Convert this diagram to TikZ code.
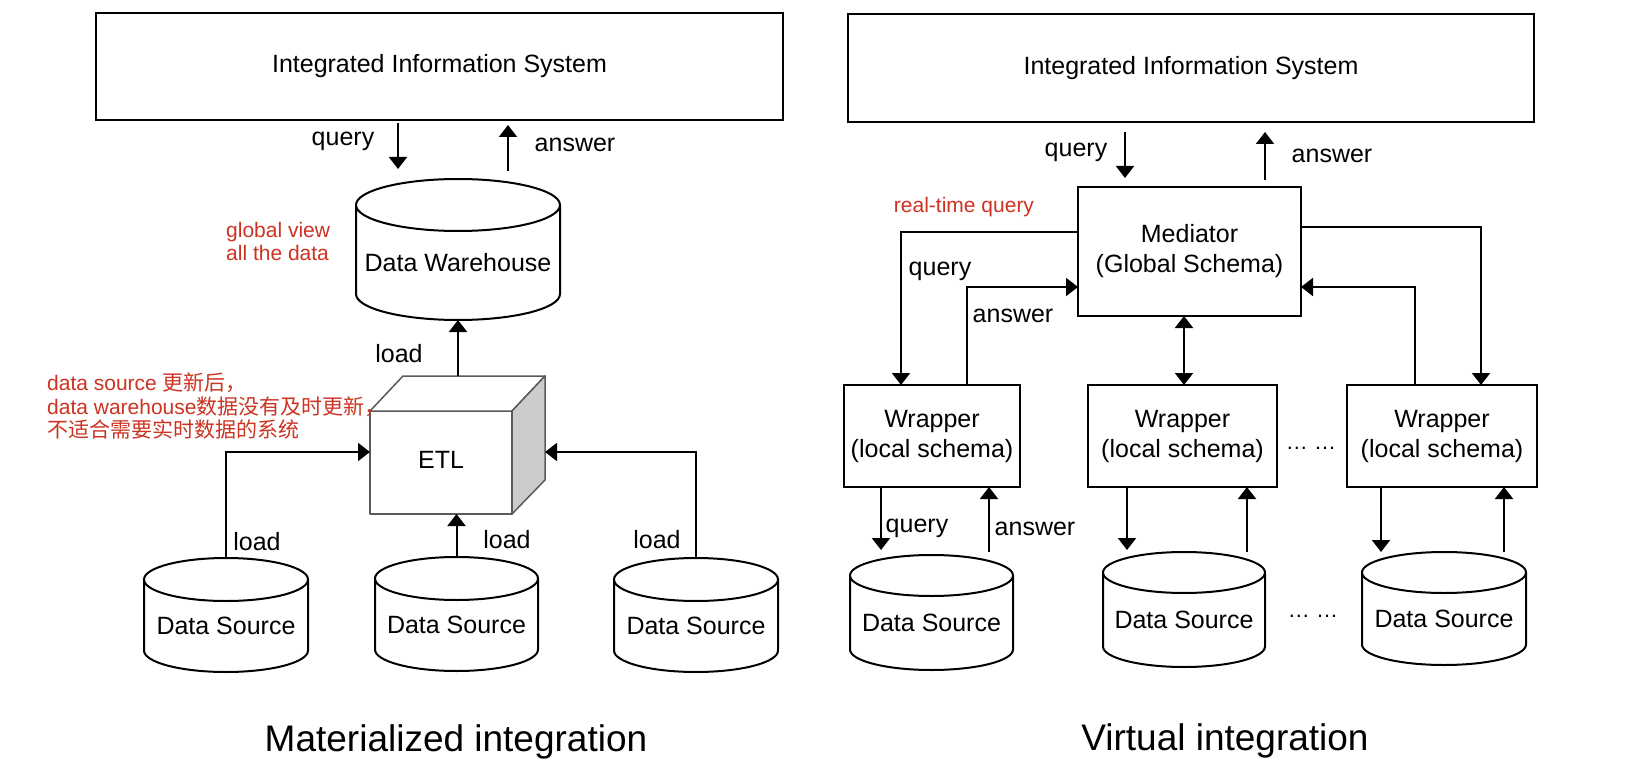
\documentclass[tikz,border=0pt]{standalone}
\usepackage{fontspec}
\setmainfont{Liberation Sans}
\newfontfamily\cjk{Noto Sans CJK SC}
\usetikzlibrary{arrows.meta,calc}
\definecolor{notered}{HTML}{CC3322}
\definecolor{sidegray}{HTML}{CCCCCC}
\definecolor{cubeedge}{HTML}{5A5A5A}
\newcommand\labfont{\fontsize{25}{30}\selectfont}
\newcommand\smallnotefont{\fontsize{21}{23.5}\selectfont}
\newcommand\ttlfont{\fontsize{37}{44}\selectfont}
\newcommand\dotsfont{\fontsize{22}{26}\selectfont}
\newcommand\drawcyl[2]{%
  \draw[cylline] let \p1=(#1.north west), \p2=(#1.south east), \n1={0.5*(\x2-\x1)} in
    (\x1,\y1-#2pt) -- (\x1,\y2+#2pt)
    arc[start angle=180, end angle=360, x radius=\n1, y radius=#2pt]
    -- (\x2,\y1-#2pt)
    (\x1+\n1,\y1-#2pt) ellipse [x radius=\n1, y radius=#2pt];
}
\tikzset{
  box/.style={draw, line width=2pt, rectangle, inner sep=0pt, outer sep=0pt, align=center, font=\labfont},
  cylnode/.style={rectangle, inner sep=0pt, outer sep=0pt, font=\labfont, text height=38pt, text depth=0pt},
  cylline/.style={line width=2pt},
  arr/.style={line width=2pt, -{Triangle[width=18pt,length=12pt]}},
  dblarr/.style={line width=2pt, {Triangle[width=18pt,length=12pt]}-{Triangle[width=18pt,length=12pt]}},
  lbl/.style={anchor=base, inner sep=0pt, font=\labfont},
  notetext/.style={anchor=base west, inner sep=0pt, text=notered, font=\smallnotefont},
  cubeline/.style={draw=cubeedge, line width=1.5pt, line join=round},
  etlface/.style={rectangle, cubeline, fill=white, inner sep=0pt, outer sep=0pt, font=\labfont, text height=11pt, text depth=0pt},
  ttl/.style={anchor=base, inner sep=0pt, font=\ttlfont},
}
\begin{document}
\begin{tikzpicture}[x=1pt,y=1pt]
\fill[white] (0,0) rectangle (1644,-770);
\useasboundingbox (0,0) rectangle (1644,-770);

% ================= Materialized integration =================
\node[box, minimum width=687pt, minimum height=107pt] (sysL) at (439.5,-66.5) {Integrated Information System};
\node[cylnode, minimum width=204pt, minimum height=141pt, text height=44pt] (dw) at (458,-249.5) {Data Warehouse};
\drawcyl{dw}{26}

\node[etlface, minimum width=142pt, minimum height=103pt] (etl) at (441,-462.5) {ETL};
\filldraw[cubeline, fill=white] (etl.north west) -- ++(33,35) -- ($(etl.north east)+(33,35)$) -- (etl.north east) -- cycle;
\filldraw[cubeline, fill=sidegray] (etl.north east) -- ($(etl.north east)+(33,35)$) -- ($(etl.south east)+(33,34)$) -- (etl.south east) -- cycle;

\node[cylnode, minimum width=164pt, minimum height=114pt] (dsl1) at (226,-615) {Data Source};
\node[cylnode, minimum width=163pt, minimum height=114pt] (dsl2) at (456.5,-614) {Data Source};
\node[cylnode, minimum width=164pt, minimum height=114pt] (dsl3) at (696,-615) {Data Source};
\drawcyl{dsl1}{21.5}
\drawcyl{dsl2}{21.5}
\drawcyl{dsl3}{21.5}

\draw[arr] ($(sysL.south west)+(302,-3)$) -- ($(dw.north west)+(42,10)$);
\draw[arr] ($(dw.north west)+(152,8)$) -- ($(sysL.south west)+(412,-5)$);
\draw[arr] ($(dw.south |- etl.north)+(0,35)$) -- (dw.south);
\draw[arr] (dsl1.north) |- ($(etl.west)+(0,10.5)$);
\draw[arr] (dsl2.north) -- (dsl2.north |- etl.south);
\draw[arr] (dsl3.north) |- ($(etl.east)+(33,10.5)$);

\node[lbl] (lq1) at (343,-146) {query};
\node[lbl] (la1) at (575,-152) {answer};
\node[notetext] (gv1) at (226,-237) {global view};
\node[notetext] (gv2) at (226,-260) {all the data};
\node[lbl] (ld0) at (399,-362) {load};
\node[notetext] (up1) at (47,-390) {data source {\cjk 更新后，}};
\node[notetext] (up2) at (47,-414) {data warehouse{\cjk 数据没有及时更新，}};
\node[notetext] (up3) at (47,-437) {{\cjk 不适合需要实时数据的系统}};
\node[lbl] (ld1) at (257,-550) {load};
\node[lbl] (ld2) at (507,-548) {load};
\node[lbl] (ld3) at (657,-548) {load};
\node[ttl] (t1) at (456,-751) {Materialized integration};

% ================= Virtual integration =================
\node[box, minimum width=686pt, minimum height=108pt] (sysR) at (1191,-68) {Integrated Information System};
\node[box, minimum width=223pt, minimum height=129pt] (med) at (1189.5,-251.5) {Mediator\\(Global Schema)};
\node[box, minimum width=176pt, minimum height=102pt] (w1) at (932,-436) {Wrapper\\(local schema)};
\node[box, minimum width=189pt, minimum height=102pt] (w2) at (1182.5,-436) {Wrapper\\(local schema)};
\node[box, minimum width=190pt, minimum height=102pt] (w3) at (1442,-436) {Wrapper\\(local schema)};
\node[cylnode, minimum width=163pt, minimum height=115pt] (dsr1) at (931.5,-612.5) {Data Source};
\node[cylnode, minimum width=162pt, minimum height=115pt] (dsr2) at (1184,-609.5) {Data Source};
\node[cylnode, minimum width=164pt, minimum height=113pt] (dsr3) at (1444,-608.5) {Data Source};
\drawcyl{dsr1}{20.5}
\drawcyl{dsr2}{20.5}
\drawcyl{dsr3}{20.5}

\draw[arr] ($(sysR.south west)+(277,-10)$) -- ($(med.north west)+(47,9)$);
\draw[arr] ($(med.north west)+(187,7)$) -- ($(sysR.south west)+(417,-10)$);
\draw[arr] ($(med.west)+(0,19.5)$) -| ($(w1.north west)+(57,0)$);
\draw[arr] ($(w1.north west)+(123,0)$) |- ($(med.west)+(0,-35.5)$);
\draw[dblarr] ($(med.south)+(-5.5,0)$) -- ($(w2.north)+(1.5,0)$);
\draw[arr] ($(med.east)+(0,24.5)$) -| ($(w3.north west)+(134,0)$);
\draw[arr] ($(w3.north west)+(68,0)$) |- ($(med.east)+(0,-35.5)$);

\draw[arr] ($(w1.south west)+(37,0)$) -- ($(dsr1.north west)+(31,5)$);
\draw[arr] ($(dsr1.north west)+(139,3)$) -- ($(w1.south west)+(145,0)$);
\draw[arr] ($(w2.south west)+(39,0)$) -- ($(dsr2.north west)+(24,2)$);
\draw[arr] ($(dsr2.north west)+(144,0)$) -- ($(w2.south west)+(159,0)$);
\draw[arr] ($(w3.south west)+(34,0)$) -- ($(dsr3.north west)+(19,0)$);
\draw[arr] ($(dsr3.north west)+(142,0)$) -- ($(w3.south west)+(157,0)$);

\node[lbl] (rq0) at (1076,-157) {query};
\node[lbl] (ra0) at (1332,-163) {answer};
\node[notetext, anchor=base] (rt) at (964,-212.5) {real-time query};
\node[lbl] (rq1) at (940,-275) {query};
\node[lbl] (ra1) at (1013,-322) {answer};
\node[lbl] (rq2) at (917,-532) {query};
\node[lbl] (ra2) at (1035,-535) {answer};
\node[lbl, font=\dotsfont] (dots1) at (1311,-449) {… …};
\node[lbl, font=\dotsfont] (dots2) at (1313,-617) {… …};
\node[ttl] (t2) at (1225,-750) {Virtual integration};
\end{tikzpicture}
\end{document}
